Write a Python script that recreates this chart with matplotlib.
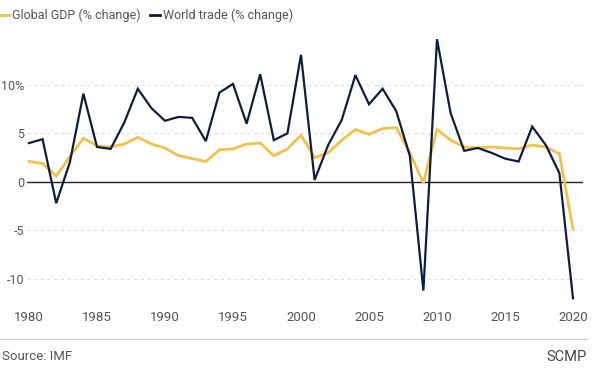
import matplotlib
matplotlib.use("Agg")
import matplotlib.pyplot as plt
from matplotlib.lines import Line2D

years = list(range(1980, 2021))
gdp = [2.1, 1.9, 0.6, 2.6, 4.5, 3.7, 3.6, 3.9, 4.6, 3.9,
       3.5, 2.7, 2.4, 2.1, 3.3, 3.4, 3.9, 4.0, 2.7, 3.4,
       4.8, 2.5, 3.0, 4.3, 5.4, 4.9, 5.5, 5.6, 3.0, -0.1,
       5.4, 4.3, 3.6, 3.5, 3.6, 3.5, 3.4, 3.8, 3.6, 2.9,
       -4.9]
trade = [4.0, 4.4, -2.2, 2.0, 9.1, 3.6, 3.4, 6.1, 9.6, 7.6,
         6.3, 6.7, 6.6, 4.2, 9.2, 10.1, 6.0, 11.1, 4.3, 5.0,
         13.1, 0.2, 3.8, 6.4, 11.0, 8.0, 9.6, 7.3, 2.7, -11.2,
         14.7, 7.1, 3.2, 3.5, 3.0, 2.4, 2.1, 5.7, 3.8, 0.9,
         -12.0]
xticks = [1980, 1985, 1990, 1995, 2000, 2005, 2010, 2015, 2020]
yticks = [-10, -5, 0, 5, 10]
ylabels = ["-10", "-5", "0", "5", "10%"]

NAVY = "#0f1d3d"
GOLD = "#efc24f"
TXT = "#555555"
FONT = "Roboto"

fig = plt.figure(figsize=(6, 3.75), dpi=100)
W, H = 600, 375
left_px, right_px = 27, 583
ax = fig.add_axes([left_px / W, 1 - 308 / H, (right_px - left_px) / W, (308 - 32) / H])
ppy = (573 - 29) / 40.0
ax.set_xlim(1980 - (29 - left_px) / ppy, 2020 + (right_px - 573) / ppy)
ax.set_ylim(-13.0, 15.45)

for v in yticks:
    if v == 0:
        ax.axhline(0, color="#222222", lw=1.0, zorder=3)
    else:
        ax.axhline(v, color="#dddddd", lw=0.8, ls=(0, (3, 3)), zorder=1)

ax.plot(years, gdp, color=GOLD, lw=2.0, zorder=4, solid_joinstyle="miter")
ax.plot(years, trade, color=NAVY, lw=1.6, zorder=5, solid_joinstyle="miter")

for s in ax.spines.values():
    s.set_visible(False)
ax.set_xticks(xticks)
ax.set_xticklabels([str(x) for x in xticks], fontfamily=FONT, fontsize=9.5, color=TXT)
ax.set_yticks(yticks)
ax.set_yticklabels(ylabels, fontfamily=FONT, fontsize=9, color=TXT)
ax.tick_params(length=0, axis="x", pad=2)
ax.tick_params(length=0, axis="y", pad=2)

# legend (manual)
fig.add_artist(Line2D([0, 9 / W], [1 - 15 / H] * 2, color=GOLD, lw=2.0))
fig.text(12 / W, 1 - 15 / H, "Global GDP (% change)", fontfamily=FONT, fontsize=9,
         color=TXT, va="center", ha="left")
fig.add_artist(Line2D([150 / W, 160 / W], [1 - 15 / H] * 2, color=NAVY, lw=2.0))
fig.text(163 / W, 1 - 15 / H, "World trade (% change)", fontfamily=FONT, fontsize=9,
         color=TXT, va="center", ha="left")

# footer
fig.add_artist(Line2D([0, 587 / W], [1 - 339 / H] * 2, color="#cccccc", lw=0.8))
fig.text(2 / W, 1 - 357 / H, "Source: IMF", fontfamily=FONT, fontsize=9.5,
         color=TXT, va="center", ha="left")
fig.text(587 / W, 1 - 357 / H, "SCMP", fontfamily=FONT, fontsize=10.5,
         color="#444444", va="center", ha="right")

fig.savefig("out.png", dpi=100)
